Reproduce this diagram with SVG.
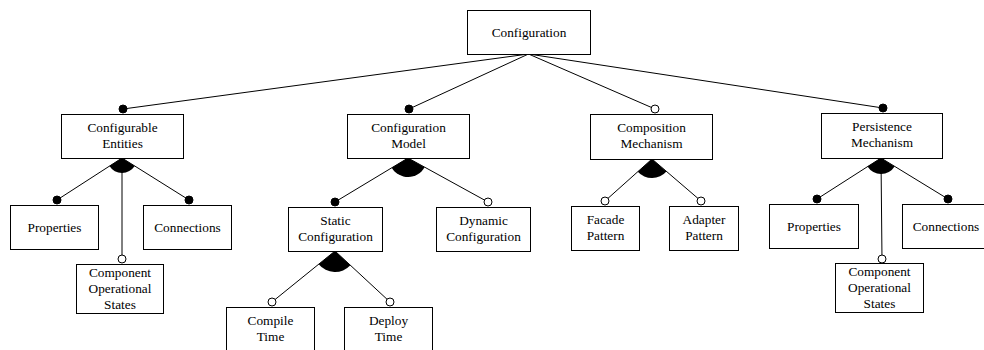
<svg xmlns="http://www.w3.org/2000/svg" width="984" height="350" viewBox="0 0 984 350">
  <style>
    .box { fill: #fff; stroke: #000; stroke-width: 1; }
    .lbl { font-family: "Liberation Serif", "Times New Roman", serif; font-size: 13.3px; fill: #000; text-anchor: middle; }
    .edge { stroke: #000; stroke-width: 1; fill: none; }
    .mand { fill: #000; stroke: #000; stroke-width: 1; }
    .opt { fill: #fff; stroke: #000; stroke-width: 1; }
    .grp { fill: #000; stroke: none; }
  </style>
  <rect width="984" height="350" fill="#fff"/>

  <!-- connectors -->
  <g id="connectors">
    <line class="edge" x1="528.5" y1="54" x2="123" y2="109"/>
    <line class="edge" x1="528.5" y1="54" x2="409" y2="109"/>
    <line class="edge" x1="528.5" y1="54" x2="655" y2="109"/>
    <line class="edge" x1="528.5" y1="54" x2="883" y2="108"/>

    <line class="edge" x1="122" y1="158" x2="57" y2="200"/>
    <line class="edge" x1="122" y1="158" x2="189" y2="200"/>
    <line class="edge" x1="122" y1="158" x2="122" y2="259"/>
    <path class="grp" d="M122 158 L109.4 166.1 A15 15 0 0 0 134.7 166 Z"/>

    <line class="edge" x1="408" y1="158" x2="335" y2="202"/>
    <line class="edge" x1="408" y1="158" x2="488" y2="202"/>
    <path class="grp" d="M408 158 L391.7 167.8 A19 19 0 0 0 424.6 167.2 Z"/>

    <line class="edge" x1="335" y1="251" x2="272" y2="302"/>
    <line class="edge" x1="335" y1="251" x2="390" y2="302"/>
    <path class="grp" d="M335 251 L318.7 264.2 A21 21 0 0 0 350.4 265.3 Z"/>

    <line class="edge" x1="652" y1="159" x2="605" y2="201"/>
    <line class="edge" x1="652" y1="159" x2="701" y2="201"/>
    <path class="grp" d="M652 159 L637.8 171.7 A19 19 0 0 0 666.4 171.4 Z"/>

    <line class="edge" x1="881" y1="158" x2="817" y2="199"/>
    <line class="edge" x1="881" y1="158" x2="948" y2="199"/>
    <line class="edge" x1="881" y1="158" x2="882" y2="259"/>
    <path class="grp" d="M881 158 L867.5 166.6 A16 16 0 0 0 894.6 166.4 Z"/>

    <!-- end markers: filled = mandatory, hollow = optional -->
    <circle class="mand" cx="123" cy="109" r="4"/>
    <circle class="mand" cx="409" cy="109" r="4"/>
    <circle class="opt" cx="655" cy="109" r="4"/>
    <circle class="mand" cx="883" cy="108" r="4"/>
    <circle class="mand" cx="57" cy="200" r="4"/>
    <circle class="mand" cx="189" cy="200" r="4"/>
    <circle class="opt" cx="122" cy="259" r="4"/>
    <circle class="mand" cx="335" cy="202" r="4"/>
    <circle class="opt" cx="488" cy="202" r="4"/>
    <circle class="opt" cx="272" cy="302" r="4"/>
    <circle class="opt" cx="390" cy="302" r="4"/>
    <circle class="opt" cx="605" cy="201" r="4"/>
    <circle class="opt" cx="701" cy="201" r="4"/>
    <circle class="mand" cx="817" cy="199" r="4"/>
    <circle class="mand" cx="948" cy="199" r="4"/>
    <circle class="opt" cx="882" cy="259" r="4"/>
  </g>

  <!-- nodes -->
  <g id="configuration">
    <rect class="box" x="467.5" y="10.5" width="123" height="44"/>
    <text class="lbl" x="529" y="37">Configuration</text>
  </g>

  <g id="configurable-entities">
    <rect class="box" x="61.5" y="114.5" width="122" height="44"/>
    <text class="lbl" x="122.5" y="132">Configurable</text>
    <text class="lbl" x="122.5" y="148">Entities</text>
  </g>
  <g id="ce-properties">
    <rect class="box" x="10.5" y="205.5" width="88" height="44"/>
    <text class="lbl" x="54.5" y="231.5">Properties</text>
  </g>
  <g id="ce-connections">
    <rect class="box" x="143.5" y="205.5" width="88" height="44"/>
    <text class="lbl" x="187.5" y="231.5">Connections</text>
  </g>
  <g id="ce-operational-states">
    <rect class="box" x="76.5" y="264.5" width="87" height="49"/>
    <text class="lbl" x="120" y="277">Component</text>
    <text class="lbl" x="120" y="293">Operational</text>
    <text class="lbl" x="120" y="308.5">States</text>
  </g>

  <g id="configuration-model">
    <rect class="box" x="347.5" y="114.5" width="122" height="44"/>
    <text class="lbl" x="408.5" y="132">Configuration</text>
    <text class="lbl" x="408.5" y="148">Model</text>
  </g>
  <g id="static-configuration">
    <rect class="box" x="288.5" y="207.5" width="94" height="44"/>
    <text class="lbl" x="335.5" y="225">Static</text>
    <text class="lbl" x="335.5" y="241">Configuration</text>
  </g>
  <g id="dynamic-configuration">
    <rect class="box" x="436.5" y="207.5" width="94" height="44"/>
    <text class="lbl" x="483.5" y="225">Dynamic</text>
    <text class="lbl" x="483.5" y="241">Configuration</text>
  </g>
  <g id="compile-time">
    <rect class="box" x="226.5" y="307.5" width="88" height="46"/>
    <text class="lbl" x="270.5" y="325">Compile</text>
    <text class="lbl" x="270.5" y="341">Time</text>
  </g>
  <g id="deploy-time">
    <rect class="box" x="344.5" y="307.5" width="88" height="46"/>
    <text class="lbl" x="388.5" y="325">Deploy</text>
    <text class="lbl" x="388.5" y="341">Time</text>
  </g>

  <g id="composition-mechanism">
    <rect class="box" x="590.5" y="114.5" width="122" height="45"/>
    <text class="lbl" x="651.5" y="132">Composition</text>
    <text class="lbl" x="651.5" y="148">Mechanism</text>
  </g>
  <g id="facade-pattern">
    <rect class="box" x="571.5" y="206.5" width="68" height="44"/>
    <text class="lbl" x="605.5" y="224">Facade</text>
    <text class="lbl" x="605.5" y="240">Pattern</text>
  </g>
  <g id="adapter-pattern">
    <rect class="box" x="669.5" y="206.5" width="69" height="44"/>
    <text class="lbl" x="704" y="224">Adapter</text>
    <text class="lbl" x="704" y="240">Pattern</text>
  </g>

  <g id="persistence-mechanism">
    <rect class="box" x="821.5" y="113.5" width="121" height="45"/>
    <text class="lbl" x="882" y="131">Persistence</text>
    <text class="lbl" x="882" y="147">Mechanism</text>
  </g>
  <g id="pm-properties">
    <rect class="box" x="769.5" y="204.5" width="89" height="44"/>
    <text class="lbl" x="814" y="230.5">Properties</text>
  </g>
  <g id="pm-connections">
    <rect class="box" x="902.5" y="204.5" width="88" height="44"/>
    <text class="lbl" x="946" y="230.5">Connections</text>
  </g>
  <g id="pm-operational-states">
    <rect class="box" x="835.5" y="263.5" width="88" height="49"/>
    <text class="lbl" x="879.5" y="276">Component</text>
    <text class="lbl" x="879.5" y="292">Operational</text>
    <text class="lbl" x="879.5" y="307.5">States</text>
  </g>
</svg>
